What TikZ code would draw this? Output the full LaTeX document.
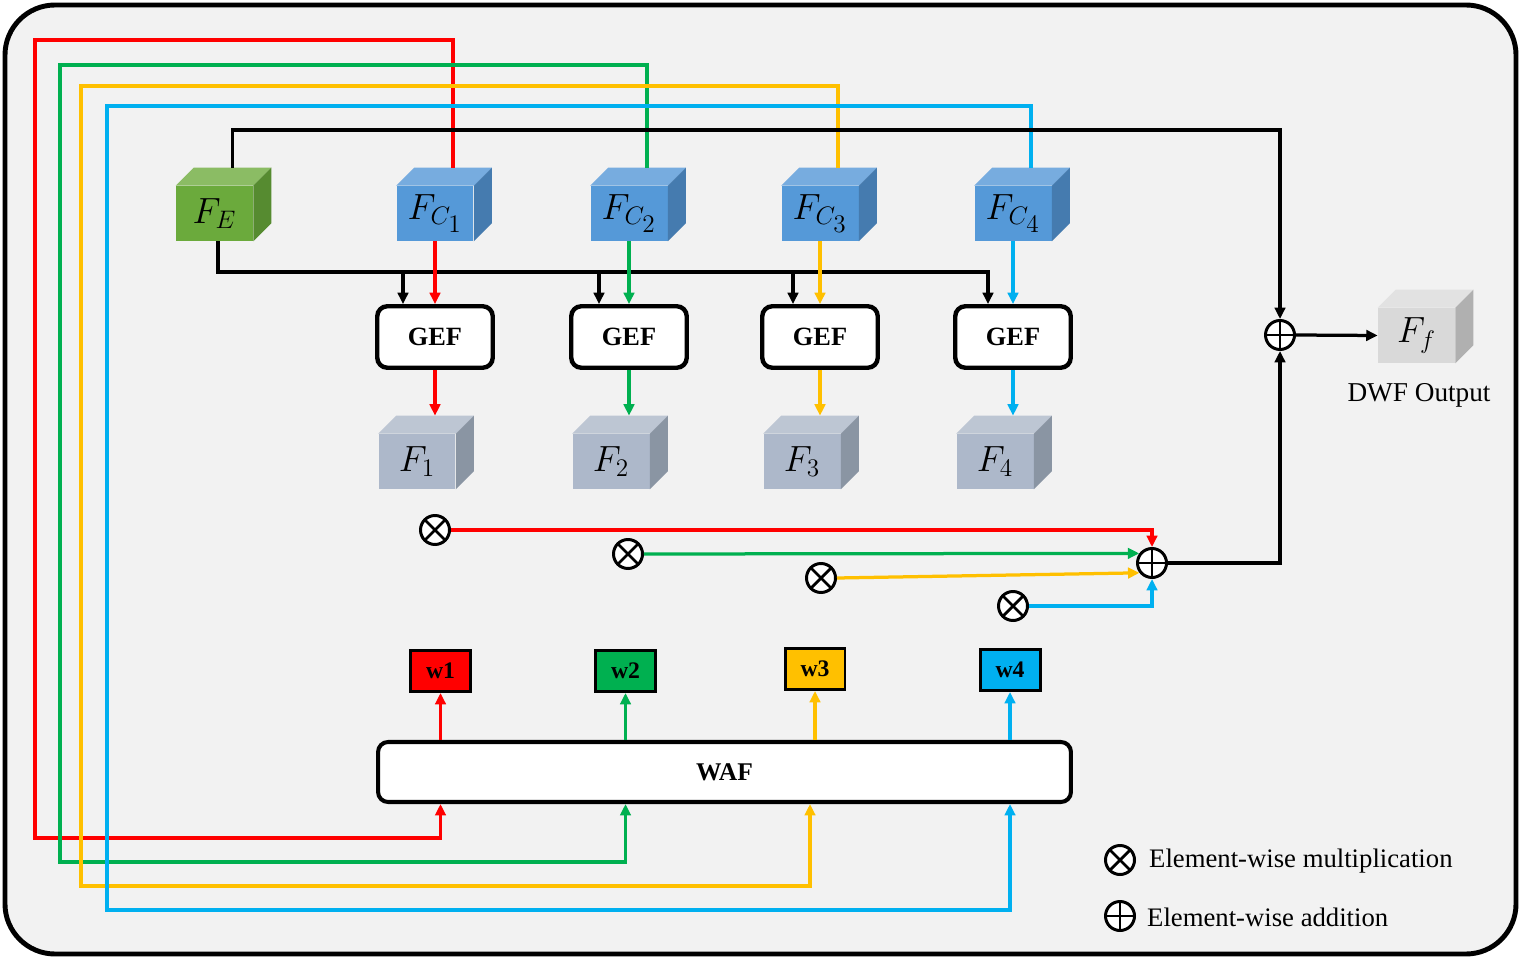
\documentclass[tikz,border=0pt]{standalone}
\usepackage{fontspec}
\setmainfont{Liberation Serif}
\usepackage{tikz}
\usetikzlibrary{arrows.meta, positioning, calc}

\definecolor{cred}{HTML}{FF0000}
\definecolor{cgreen}{HTML}{00B050}
\definecolor{cyellow}{HTML}{FFC000}
\definecolor{cblue}{HTML}{00B0F0}
\definecolor{bgpanel}{HTML}{F2F2F2}
\definecolor{enfront}{HTML}{6BAA3C}
\definecolor{entop}{HTML}{8BBC64}
\definecolor{enside}{HTML}{568B30}
\definecolor{cfront}{HTML}{5599D8}
\definecolor{ctop}{HTML}{77ACDF}
\definecolor{cside}{HTML}{457BAF}
\definecolor{ffront}{HTML}{ADB8CA}
\definecolor{ftop}{HTML}{BDC6D3}
\definecolor{fside}{HTML}{8A95A3}
\definecolor{ofront}{HTML}{D9D9D9}
\definecolor{otop}{HTML}{E2E2E2}
\definecolor{oside}{HTML}{B0B0B0}

% feature cube: name, position, front, top, side, label
\newcommand{\featcube}[6]{%
  \node[cubeface, fill=#3] (#1) at (#2) {#6};
  \fill[#4] (#1.north west) -- ++(18,-18) -- ([shift={(18,-18)}]#1.north east) -- (#1.north east) -- cycle;
  \fill[#5] (#1.north east) -- ++(18,-18) -- ([shift={(18,-18)}]#1.south east) -- (#1.south east) -- cycle;
}
\newcommand{\fcsub}[1]{F_{C_{\scriptstyle #1}}}

\begin{document}
\begin{tikzpicture}[
    x=0.02cm, y=-0.02cm,
    >={Triangle[length=6.5pt, width=6pt]},
    cubeface/.style={minimum width=1.54cm, minimum height=1.1cm, inner sep=0pt, font=\fontsize{19.5}{22}\selectfont},
    gefbox/.style={draw, rounded corners=0.2cm, line width=2.5pt, fill=white, minimum width=2.31cm, minimum height=1.23cm, font=\bfseries\fontsize{15}{18}\selectfont},
    wafbox/.style={draw, rounded corners=0.2cm, line width=2.3pt, fill=white, minimum width=13.86cm, minimum height=1.2cm, font=\bfseries\fontsize{14.5}{17}\selectfont},
    wbox/.style={draw, line width=1.7pt, minimum width=1.2cm, minimum height=0.82cm, inner sep=0pt, font=\bfseries\fontsize{13.5}{15}\selectfont},
    otimes/.style={circle, draw, line width=1.7pt, fill=white, minimum size=0.58cm, inner sep=0pt,
        path picture={\draw[line width=1.6pt] (path picture bounding box.north west) -- (path picture bounding box.south east)
            (path picture bounding box.north east) -- (path picture bounding box.south west);}},
    oplus/.style={circle, draw, line width=1.7pt, fill=white, minimum size=0.58cm, inner sep=0pt,
        path picture={\draw[line width=1.6pt] (path picture bounding box.north) -- (path picture bounding box.south)
            (path picture bounding box.west) -- (path picture bounding box.east);}},
    flow/.style={->, line width=1.85pt},
    legendtext/.style={anchor=west, font=\fontsize{15.2}{18}\selectfont},
]
  \useasboundingbox (0,0) rectangle (1521,959);
  \draw[line width=2.8pt, fill=bgpanel, rounded corners=1cm] (5,5) rectangle (1516,954);

  % feature cubes
  \featcube{fe}{214.5,213.5}{enfront}{entop}{enside}{$F_E$}
  \featcube{fc1}{435,213.5}{cfront}{ctop}{cside}{$\fcsub{1}$}
  \featcube{fc2}{629,213.5}{cfront}{ctop}{cside}{$\fcsub{2}$}
  \featcube{fc3}{820,213.5}{cfront}{ctop}{cside}{$\fcsub{3}$}
  \featcube{fc4}{1013,213.5}{cfront}{ctop}{cside}{$\fcsub{4}$}

  \featcube{f1}{417,461.5}{ffront}{ftop}{fside}{$F_1$}
  \featcube{f2}{611,461.5}{ffront}{ftop}{fside}{$F_2$}
  \featcube{f3}{802,461.5}{ffront}{ftop}{fside}{$F_3$}
  \featcube{f4}{995,461.5}{ffront}{ftop}{fside}{$F_4$}

  \featcube{ff}{1416.5,335.5}{ofront}{otop}{oside}{$F_f$}
  \node[font=\fontsize{15.5}{18}\selectfont] (dwf) at (1419,395) {DWF Output};

  % GEF blocks
  \node[gefbox] (gef1) at (435,337) {GEF};
  \node[gefbox] (gef2) at (629,337) {GEF};
  \node[gefbox] (gef3) at (820,337) {GEF};
  \node[gefbox] (gef4) at (1013,337) {GEF};

  % weights and WAF
  \node[wbox, fill=cred] (w1) at (440.5,671) {w1};
  \node[wbox, fill=cgreen] (w2) at (625.5,671) {w2};
  \node[wbox, fill=cyellow] (w3) at (815,669) {w3};
  \node[wbox, fill=cblue] (w4) at (1010,670) {w4};
  \node[wafbox] (waf) at (724.5,772) {WAF};

  % operators
  \node[otimes] (m1) at (435,530) {};
  \node[otimes] (m2) at (628,554) {};
  \node[otimes] (m3) at (821,578) {};
  \node[otimes] (m4) at (1013,606) {};
  \node[oplus] (sum) at (1152,563) {};
  \node[oplus] (fuse) at (1280,335) {};

  % legend
  \node[otimes] (lgm) at (1120,860) {};
  \node[legendtext] (lgmt) at (1143,861) {Element-wise multiplication};
  \node[oplus] (lga) at (1120,916) {};
  \node[legendtext] (lgat) at (1141,917) {Element-wise addition};

  % long loops into WAF
  \draw[flow, cred] ([shift={(18,-18)}]fc1.north) |- (35,40) |- (w1 |- 0,838) -- (waf.south -| w1);
  \draw[flow, cgreen] ([shift={(18,-18)}]fc2.north) |- (60,65) |- (w2 |- 0,862) -- (waf.south -| w2);
  \draw[flow, cyellow] ([shift={(18,-18)}]fc3.north) |- (81,86) |- (810,886) -- (waf.south -| 810,0);
  \draw[flow, cblue] ([shift={(18,-18)}]fc4.north) |- (107,106) |- (w4 |- 0,910) -- (waf.south -| w4);

  % encoder feature to GEF blocks and output
  \draw[flow] ([shift={(18,-18)}]fe.north) |- (fuse |- 0,130) -- (fuse.north);
  \draw[flow] ([shift={(3.5,0)}]fe.south) |- (988,272) -- (gef4.north -| 988,0);
  \draw[flow] (403,272) -- (gef1.north -| 403,0);
  \draw[flow] (599,272) -- (gef2.north -| 599,0);
  \draw[flow] (793,272) -- (gef3.north -| 793,0);

  % cubes to GEF to fused features
  \draw[flow, cred] (fc1.south) -- (gef1.north -| fc1.south);
  \draw[flow, cgreen] (fc2.south) -- (gef2.north -| fc2.south);
  \draw[flow, cyellow] (fc3.south) -- (gef3.north -| fc3.south);
  \draw[flow, cblue] (fc4.south) -- (gef4.north -| fc4.south);
  \draw[flow, cred] (gef1.south) -- ([shift={(18,-18)}]f1.north);
  \draw[flow, cgreen] (gef2.south) -- ([shift={(18,-18)}]f2.north);
  \draw[flow, cyellow] (gef3.south) -- ([shift={(18,-18)}]f3.north);
  \draw[flow, cblue] (gef4.south) -- ([shift={(18,-18)}]f4.north);

  % WAF to weights
  \draw[flow, cred] (waf.north -| w1) -- (w1.south);
  \draw[flow, cgreen] (waf.north -| w2) -- (w2.south);
  \draw[flow, cyellow] (waf.north -| w3) -- (w3.south);
  \draw[flow, cblue] (waf.north -| w4) -- (w4.south);

  % weighted sum
  \draw[flow, cred] (m1.east) -| (sum.north);
  \draw[flow, cgreen] (m2.east) -- (sum.143);
  \draw[flow, cyellow] (m3.east) -- (sum.218);
  \draw[flow, cblue] (m4.east) -| (sum.south);
  \draw[flow] (sum.east) -| (fuse.south);
  \draw[flow] (fuse.east) -- (ff.west);
\end{tikzpicture}
\end{document}
